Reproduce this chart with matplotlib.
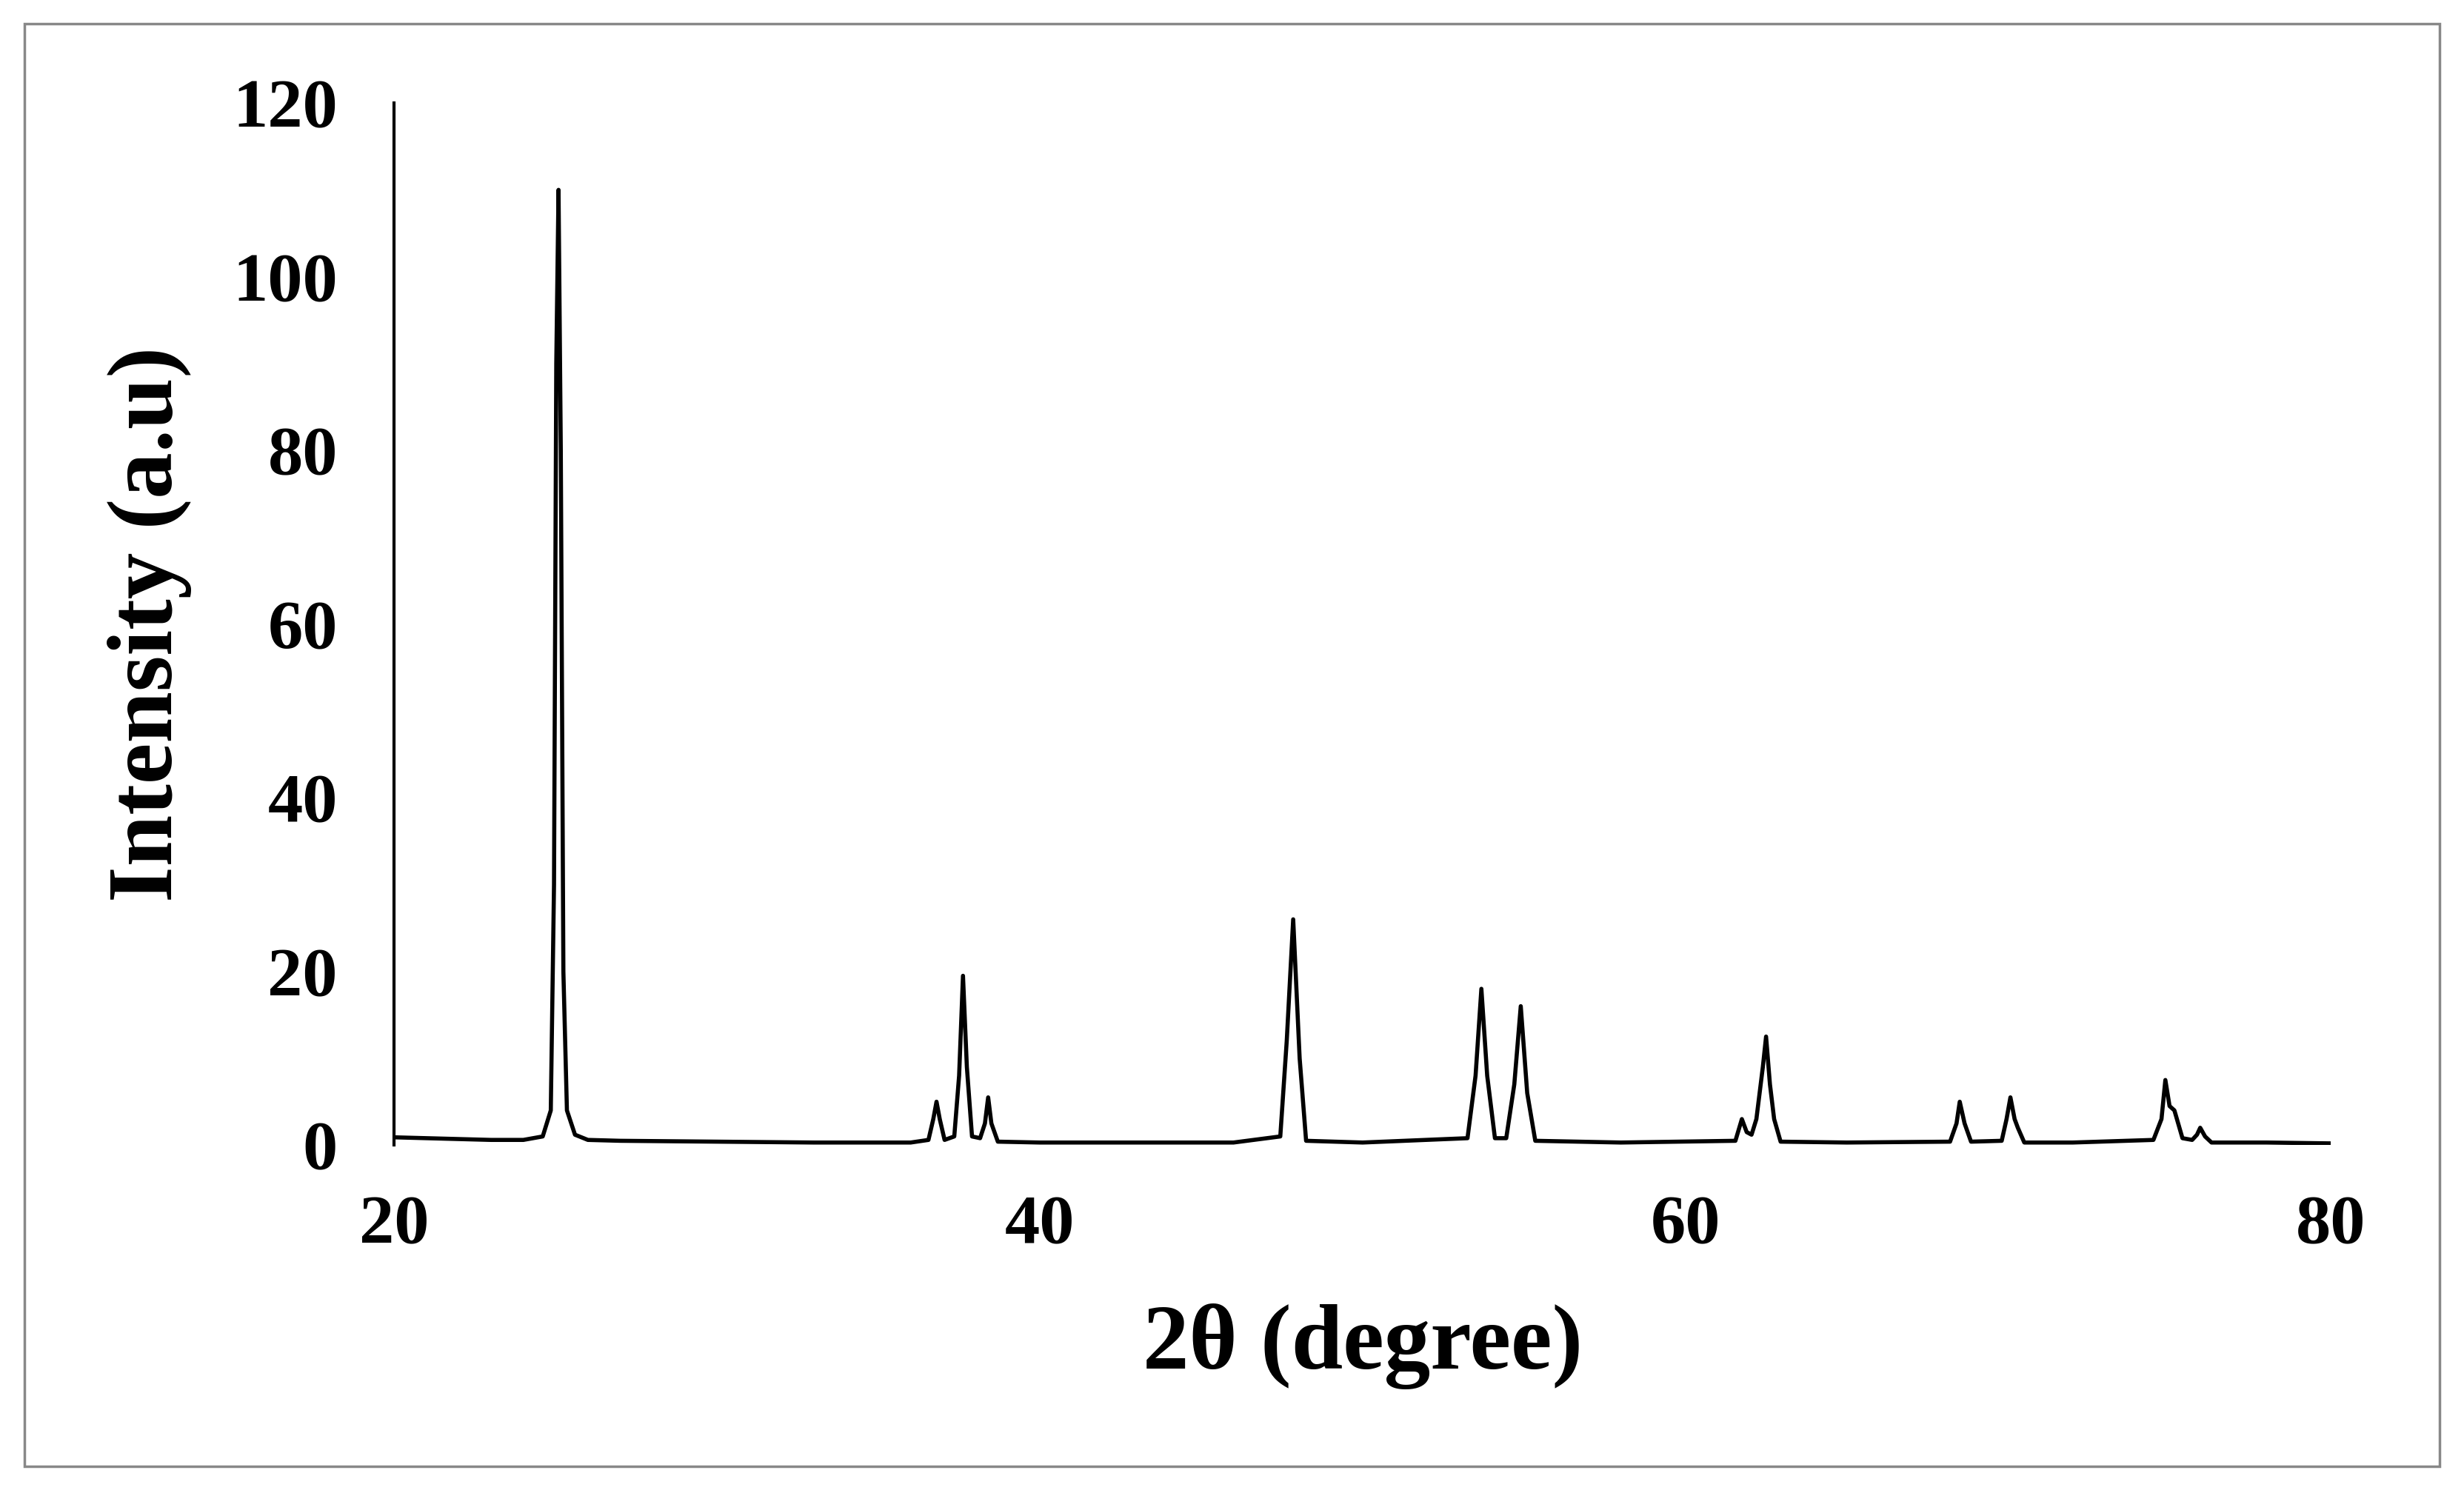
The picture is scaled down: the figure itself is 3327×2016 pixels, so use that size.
import matplotlib.pyplot as plt

# XRD pattern (2theta, intensity)
two_theta = [20.0, 21.0, 22.0, 23.0, 24.0, 24.6, 24.85, 24.95, 25.02, 25.09, 25.16, 25.24, 25.35, 25.6, 26.0, 27.0,
             30.0, 33.0, 36.0, 36.55, 36.7, 36.8, 36.9, 37.05, 37.35, 37.5, 37.62, 37.74, 37.9, 38.15, 38.3, 38.4,
             38.5, 38.7, 40.0, 43.0, 46.0, 47.45, 47.65, 47.85, 48.05, 48.25, 50.0, 53.25, 53.5, 53.68, 53.86, 54.1,
             54.45, 54.7, 54.9, 55.1, 55.35, 58.0, 61.55, 61.75, 61.9, 62.05, 62.2, 62.4, 62.5, 62.62, 62.75, 62.95,
             65.0, 68.2, 68.4, 68.5, 68.65, 68.85, 69.8, 69.95, 70.07, 70.2, 70.3, 70.5, 72.0, 74.5, 74.75, 74.87,
             75.0, 75.15, 75.4, 75.7, 75.85, 75.95, 76.1, 76.3, 78.0, 80.0]
intensity = [0.9, 0.8, 0.7, 0.6, 0.6, 1.0, 4.0, 30.0, 90.0, 110.0, 80.0, 20.0, 4.0, 1.2, 0.6, 0.5,
             0.4, 0.3, 0.3, 0.6, 3.0, 5.0, 3.0, 0.6, 1.0, 8.0, 19.5, 9.0, 1.0, 0.8, 2.5, 5.5,
             2.5, 0.4, 0.3, 0.3, 0.3, 1.0, 12.0, 26.0, 10.0, 0.5, 0.3, 0.8, 8.0, 18.0, 8.0, 0.8,
             0.8, 7.0, 16.0, 6.0, 0.5, 0.3, 0.5, 3.0, 1.5, 1.2, 3.0, 9.0, 12.5, 7.0, 3.0, 0.4,
             0.3, 0.4, 2.5, 5.0, 2.5, 0.4, 0.5, 3.0, 5.5, 3.0, 2.0, 0.3, 0.3, 0.6, 3.0, 7.5,
             4.5, 4.0, 0.8, 0.6, 1.2, 2.0, 1.0, 0.3, 0.3, 0.2]

x_ticks = [20, 40, 60, 80]
y_ticks = [0, 20, 40, 60, 80, 100, 120]

plt.rcParams['font.family'] = ['Liberation Serif', 'DejaVu Serif']
plt.rcParams['font.weight'] = 'bold'

fig = plt.figure(figsize=(33.27, 20.16), dpi=100)
ax = fig.add_axes([0.160, 0.233, 0.786, 0.698])
ax.plot(two_theta, intensity, color='black', lw=4)

ax.set_xlim(20, 80)
ax.set_ylim(0, 120)
ax.set_xticks(x_ticks)
ax.set_yticks(y_ticks)
ax.spines[['top', 'right', 'bottom']].set_visible(False)
ax.spines['left'].set_linewidth(3)
ax.tick_params(axis='both', length=0, labelsize=68)
ax.tick_params(axis='y', pad=55)
ax.tick_params(axis='x', pad=48)
for lab in ax.get_xticklabels() + ax.get_yticklabels():
    lab.set_fontweight('bold')

ax.set_xlabel('2θ (degree)', fontsize=90, fontweight='bold', labelpad=45)
ax.set_ylabel('Intensity (a.u)', fontsize=90, fontweight='bold', labelpad=40)

# thin grey frame around the whole figure
fig.patches.append(plt.Rectangle((0.01, 0.018), 0.98, 0.966, transform=fig.transFigure,
                                 fill=False, edgecolor='#888888', lw=2.5))

fig.savefig('out.png', dpi=100)
